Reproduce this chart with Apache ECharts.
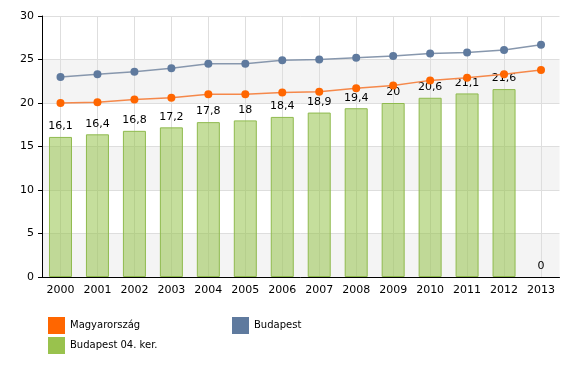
<!DOCTYPE html>
<html><head><meta charset="utf-8">
<script src="https://cdn.jsdelivr.net/npm/echarts@6/dist/echarts.min.js"></script>
<style>html,body{margin:0;padding:0;background:#fff}#c{width:580px;height:366px}</style>
</head><body><div id="c"></div>
<script>
var years = ['2000','2001','2002','2003','2004','2005','2006','2007','2008','2009','2010','2011','2012','2013'];
var magyarorszag = [20.0,20.1,20.4,20.6,21.0,21.0,21.2,21.3,21.7,22.0,22.6,22.9,23.3,23.8];
var budapest = [23.0,23.3,23.6,24.0,24.5,24.5,24.9,25.0,25.2,25.4,25.7,25.8,26.1,26.7];
var kerulet = [16.1,16.4,16.8,17.2,17.8,18,18.4,18.9,19.4,20,20.6,21.1,21.6,0];
var yTicks = [0,5,10,15,20,25,30];

var font = 'DejaVu Sans';
var chart = echarts.init(document.getElementById('c'), null, {renderer:'canvas'});
chart.setOption({
  animation: false,
  backgroundColor: '#fff',
  grid: {left: 42, right: 20.5, top: 16, bottom: 89, containLabel: false},
  legend: [
    {left: 48, top: 317, padding: 0, orient: 'vertical', itemGap: 3, itemWidth: 17, itemHeight: 17, icon: 'rect',
     data: [{name:'Magyarország', itemStyle:{color:'#ff6600'}}, {name:'Budapest 04. ker.', itemStyle:{color:'#99c24d', borderWidth:0}}],
     textStyle: {fontFamily: font, fontSize: 10, color: '#000'}},
    {left: 232, top: 317, padding: 0, orient: 'vertical', itemWidth: 17, itemHeight: 17, icon: 'rect',
     data: [{name:'Budapest', itemStyle:{color:'#5f7a9e'}}],
     textStyle: {fontFamily: font, fontSize: 10, color: '#000'}}
  ],
  xAxis: {
    type: 'category', data: years, boundaryGap: true,
    axisLine: {lineStyle: {color: '#000', width: 1}},
    axisTick: {alignWithLabel: true, length: 4, lineStyle: {color: '#000'}},
    axisLabel: {fontFamily: font, fontSize: 11, color: '#000', margin: 8},
    splitLine: {show: false}
  },
  yAxis: {
    type: 'value', min: 0, max: 30, interval: 5,
    axisLine: {show: true, lineStyle: {color: '#000', width: 1}},
    axisTick: {show: true, length: 4, lineStyle: {color: '#000'}},
    axisLabel: {fontFamily: font, fontSize: 11, color: '#000', margin: 8},
    splitLine: {lineStyle: {color: '#dedede'}},
    splitArea: {show: true, areaStyle: {color: ['#f4f4f4', '#ffffff']}}
  },
  series: [
    {
      name: 'grid', type: 'line', data: years.map(function(){return null;}), z: 1, silent: true, symbol: 'none',
      markLine: {silent: true, z: 1, symbol: 'none', label: {show: false},
        lineStyle: {color: '#dedede', type: 'solid', width: 1},
        data: years.map(function(y){return {xAxis: y};})}
    },
    {
      name: 'Budapest 04. ker.', type: 'bar', z: 2, barWidth: 23,
      data: kerulet.map(function(v){ return v === 0 ? {value: v, itemStyle: {borderWidth: 0, color: 'rgba(0,0,0,0)'}} : v; }),
      itemStyle: {color: 'rgba(150,195,75,0.55)', borderColor: '#8fba4e', borderWidth: 1},
      label: {show: true, position: 'top', distance: 5, fontFamily: font, fontSize: 11, color: '#000',
        formatter: function(p){return String(p.value).replace('.', ',');}}
    },
    {
      name: 'Magyarország', type: 'line', data: magyarorszag, z: 3,
      symbol: 'circle', symbolSize: 8, showAllSymbol: true,
      lineStyle: {color: '#f5884a', width: 1.5},
      itemStyle: {color: '#ff6600', borderWidth: 0}
    },
    {
      name: 'Budapest', type: 'line', data: budapest, z: 3,
      symbol: 'circle', symbolSize: 8, showAllSymbol: true,
      lineStyle: {color: '#8797ad', width: 1.5},
      itemStyle: {color: '#5f7a9e', borderWidth: 0}
    }
  ]
});
</script></body></html>
